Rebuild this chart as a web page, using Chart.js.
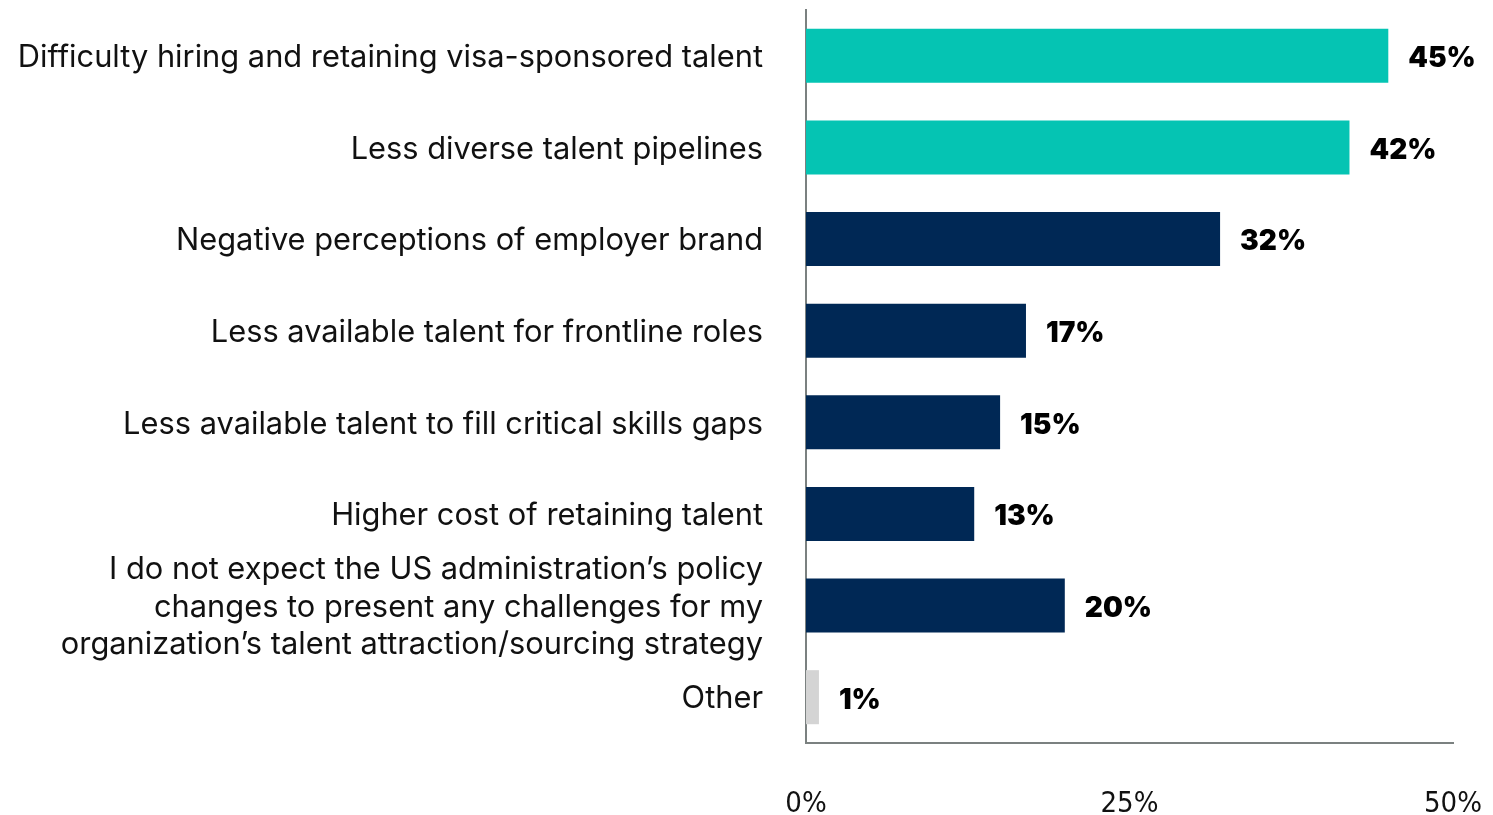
<!DOCTYPE html>
<html>
<head>
<meta charset="utf-8">
<script src="https://cdn.jsdelivr.net/npm/chart.js@4.4.1/dist/chart.umd.min.js"></script>
<style>
  html, body { margin: 0; padding: 0; background: #fff; }
  #wrap { width: 1493px; height: 815px; position: relative; }
</style>
</head>
<body>
<div id="wrap"><canvas id="challenges-chart"></canvas></div>
<script>
const categories = [
    'Difficulty hiring and retaining visa-sponsored talent',
    'Less diverse talent pipelines',
    'Negative perceptions of employer brand',
    'Less available talent for frontline roles',
    'Less available talent to fill critical skills gaps',
    'Higher cost of retaining talent',
    ['I do not expect the US administration\u2019s policy',
     'changes to present any challenges for my',
     'organization\u2019s talent attraction/sourcing strategy'],
    'Other'
];
const shares = [45, 42, 32, 17, 15, 13, 20, 1];
const barColors = ['#05c4b3', '#05c4b3', '#002855', '#002855', '#002855', '#002855', '#002855', '#d4d4d4'];
const xTicks = [0, 25, 50];

// bold percentage next to each bar end
const valueLabels = {
    id: 'valueLabels',
    afterDatasetsDraw(chart) {
        const ctx = chart.ctx;
        const meta = chart.getDatasetMeta(0);
        ctx.save();
        ctx.font = '900 28px Inter';
        ctx.fillStyle = '#000';
        ctx.textAlign = 'left';
        ctx.textBaseline = 'middle';
        meta.data.forEach(function (bar, i) {
            ctx.fillText(shares[i] + '%', bar.x + 20, bar.y + 3);
        });
        ctx.restore();
    }
};

const ctx = document.getElementById('challenges-chart').getContext('2d');
new Chart(ctx, {
    type: 'bar',
    data: {
        labels: categories,
        datasets: [{
            data: shares,
            backgroundColor: barColors,
            barPercentage: 0.59,
            categoryPercentage: 1
        }]
    },
    options: {
        indexAxis: 'y',
        responsive: true,
        maintainAspectRatio: false,
        animation: false,
        layout: { padding: { top: 10, right: 40, left: 0, bottom: 0 } },
        plugins: {
            legend: { display: false },
            tooltip: { enabled: false }
        },
        scales: {
            x: {
                min: 0,
                max: 50,
                afterBuildTicks: function (scale) {
                    scale.ticks = xTicks.map(function (v) { return { value: v }; });
                },
                afterFit: function (scale) {
                    scale.height = 72;
                    scale.paddingLeft = 0;
                    scale.paddingRight = 0;
                },
                grid: { display: false, drawTicks: true, tickLength: 44 },
                border: { color: '#7b8180', width: 2 },
                ticks: {
                    padding: 0,
                    color: '#111',
                    maxRotation: 0,
                    font: { family: "'DejaVu Sans Condensed', 'Liberation Sans', sans-serif", size: 29 },
                    callback: function (v) { return v + '%'; }
                }
            },
            y: {
                afterFit: function (scale) {
                    scale.width = 806;
                    scale.paddingTop = 0;
                    scale.paddingBottom = 0;
                },
                grid: { display: false, drawTicks: true, tickLength: 43 },
                border: { color: '#7b8180', width: 2 },
                ticks: {
                    padding: 0,
                    labelOffset: 2,
                    autoSkip: false,
                    color: '#111',
                    font: { family: 'Inter', size: 30.8, lineHeight: 1.22 }
                }
            }
        }
    },
    plugins: [valueLabels]
});
</script>
</body>
</html>
